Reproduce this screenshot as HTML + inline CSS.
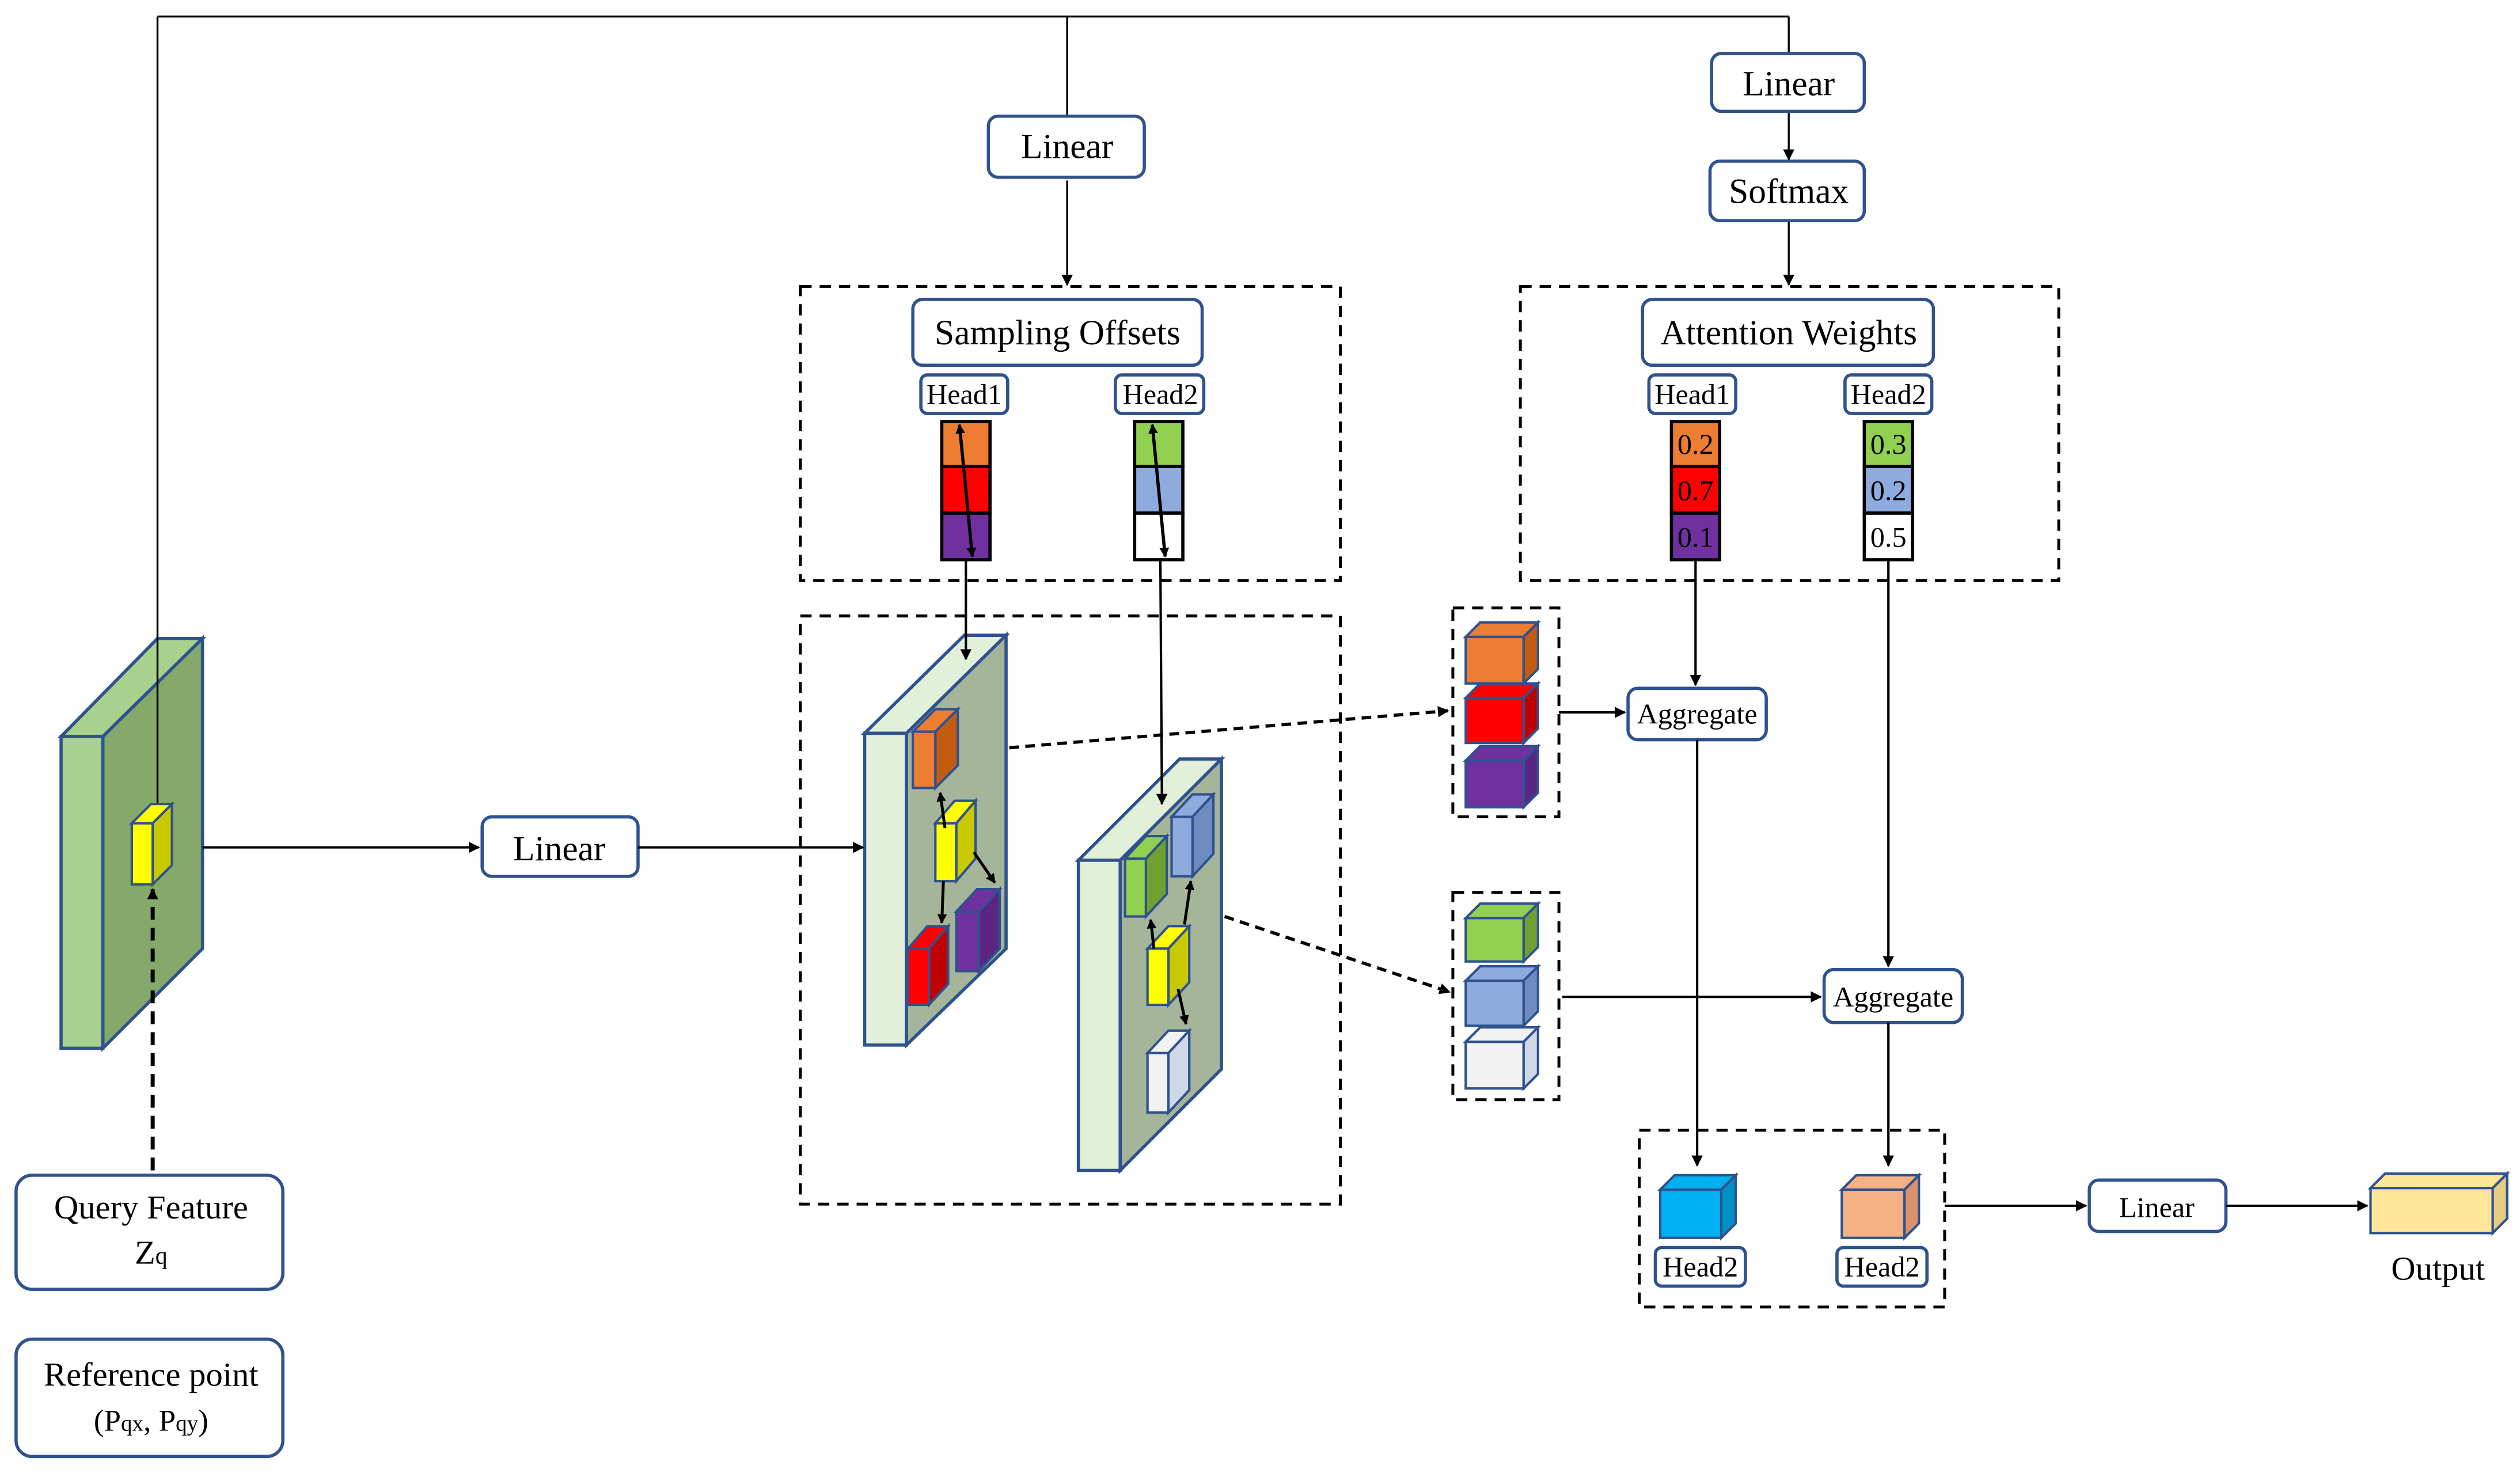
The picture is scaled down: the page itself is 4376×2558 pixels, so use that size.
<!DOCTYPE html>
<html><head><meta charset="utf-8"><style>
html,body{margin:0;padding:0;background:#fff}
svg{display:block}
text{font-family:"Liberation Serif",serif;fill:#000}
</style></head><body>
<svg width="4376" height="2558" viewBox="0 0 1568 916" xmlns="http://www.w3.org/2000/svg">
<defs>
<marker id="a" viewBox="0 0 10 10" refX="9" refY="5" markerWidth="7" markerHeight="7" orient="auto-start-reverse" markerUnits="userSpaceOnUse"><path d="M0,0 L10,5 L0,10 z" fill="#000"/></marker>
<marker id="s" viewBox="0 0 10 10" refX="9" refY="5" markerWidth="6" markerHeight="6" orient="auto-start-reverse" markerUnits="userSpaceOnUse"><path d="M0,0 L10,5 L0,10 z" fill="#000"/></marker>
</defs>
<g fill="none" stroke="#000" stroke-width="1.2">
<polyline points="98,10 1113,10"/>
<line x1="664" y1="10" x2="664" y2="72"/>
<line x1="1113" y1="10" x2="1113" y2="33"/>
<line x1="664" y1="112" x2="664" y2="177" marker-end="url(#a)"/>
<line x1="1113" y1="70" x2="1113" y2="99" marker-end="url(#a)"/>
<line x1="1113" y1="138" x2="1113" y2="177" marker-end="url(#a)"/>
</g>
<g fill="none" stroke="#000" stroke-width="1.8" stroke-dasharray="7,5">
<rect x="498" y="178" width="336" height="183"/>
<rect x="946" y="178" width="335" height="183"/>
<rect x="498" y="383" width="336" height="366"/>
<rect x="904" y="378" width="66" height="130"/>
<rect x="904" y="555" width="66" height="129"/>
<rect x="1020" y="703" width="190" height="110"/>
</g>
<g fill="#fff" stroke="#2f528f" stroke-width="2">
<rect x="615" y="72" width="97" height="38" rx="6"/>
<rect x="1065" y="33" width="95" height="36" rx="6"/>
<rect x="1064" y="100" width="96" height="37" rx="6"/>
<rect x="568" y="186" width="180" height="41" rx="6"/>
<rect x="1022" y="186" width="181" height="41" rx="6"/>
<rect x="573" y="233" width="54" height="24" rx="4"/>
<rect x="694" y="233" width="55" height="24" rx="4"/>
<rect x="1026" y="233" width="54" height="24" rx="4"/>
<rect x="1148" y="233" width="54" height="24" rx="4"/>
<rect x="10" y="731" width="166" height="71" rx="10"/>
<rect x="10" y="833" width="166" height="73" rx="10"/>
<rect x="300" y="508" width="97" height="37" rx="6"/>
<rect x="1013" y="428" width="86" height="32" rx="6"/>
<rect x="1135" y="603" width="86" height="33" rx="6"/>
<rect x="1030" y="776" width="56" height="24" rx="4"/>
<rect x="1143" y="776" width="56" height="24" rx="4"/>
<rect x="1300" y="734" width="85" height="32" rx="6"/>
</g>
<g font-size="22" text-anchor="middle">
<text x="664" y="98">Linear</text>
<text x="1113" y="59">Linear</text>
<text x="1113" y="126">Softmax</text>
<text x="658" y="214">Sampling Offsets</text>
<text x="1113" y="214">Attention Weights</text>
<text x="348" y="535">Linear</text>
<text x="94" y="758" font-size="21">Query Feature</text>
<text x="94" y="786" font-size="21">Z<tspan font-size="15">q</tspan></text>
<text x="94" y="862" font-size="21">Reference point</text>
<text x="94" y="890" font-size="19">(P<tspan font-size="14">qx</tspan>, P<tspan font-size="14">qy</tspan>)</text>
</g>
<g font-size="18" text-anchor="middle">
<text x="600" y="251">Head1</text>
<text x="722" y="251">Head2</text>
<text x="1053" y="251">Head1</text>
<text x="1175" y="251">Head2</text>
<text x="1056" y="450">Aggregate</text>
<text x="1178" y="626">Aggregate</text>
<text x="1058" y="794">Head2</text>
<text x="1171" y="794">Head2</text>
<text x="1342" y="757">Linear</text>
<text x="1517" y="796" font-size="21">Output</text>
</g>
<g stroke="#000" stroke-width="2">
<rect x="586" y="262" width="30" height="28" fill="#ed7d31"/>
<rect x="586" y="290" width="30" height="29" fill="#ff0000"/>
<rect x="586" y="319" width="30" height="29" fill="#7030a0"/>
<rect x="706" y="262" width="30" height="28" fill="#92d050"/>
<rect x="706" y="290" width="30" height="29" fill="#8faadc"/>
<rect x="706" y="319" width="30" height="29" fill="#fff"/>
<rect x="1040" y="262" width="30" height="28" fill="#ed7d31"/>
<rect x="1040" y="290" width="30" height="29" fill="#ff0000"/>
<rect x="1040" y="319" width="30" height="29" fill="#7030a0"/>
<rect x="1160" y="262" width="30" height="28" fill="#92d050"/>
<rect x="1160" y="290" width="30" height="29" fill="#8faadc"/>
<rect x="1160" y="319" width="30" height="29" fill="#fff"/>
</g>
<g font-size="18" text-anchor="middle">
<text x="1055" y="282" fill="#fff">0.2</text>
<text x="1055" y="311" fill="#fff">0.7</text>
<text x="1055" y="340" fill="#fff">0.1</text>
<text x="1175" y="282">0.3</text>
<text x="1175" y="311">0.2</text>
<text x="1175" y="340">0.5</text>
</g>
<g stroke="#000" stroke-width="2" fill="none">
<line x1="597" y1="264" x2="605" y2="346" marker-start="url(#s)" marker-end="url(#s)"/>
<line x1="717" y1="264" x2="725" y2="346" marker-start="url(#s)" marker-end="url(#s)"/>
</g>
<g stroke="#2f528f" stroke-width="2">
<polygon points="38,458 98,397 126,397 64,458" fill="#a9d18e"/>
<polygon points="64,458 126,397 126,590 64,652" fill="#84a96a"/>
<rect x="38" y="458" width="26" height="194" fill="#a9d18e"/>
<polygon points="538,456 600,395 626,395 564,456" fill="#e2efd9"/>
<polygon points="564,456 626,395 626,590 564,650" fill="#a5b59a"/>
<rect x="538" y="456" width="26" height="194" fill="#e2efd9"/>
<polygon points="671,535 734,472 760,472 697,535" fill="#e2efd9"/>
<polygon points="697,535 760,472 760,665 697,728" fill="#a5b59a"/>
<rect x="671" y="535" width="26" height="193" fill="#e2efd9"/>
</g>
<line x1="98" y1="10" x2="98" y2="505" stroke="#000" stroke-width="1.2"/>
<g stroke="#2f528f" stroke-width="1.5">
<polygon points="82,512 94,500 107,500 95,512" fill="#ffff00"/><polygon points="95,512 107,500 107,538 95,550" fill="#c9c900"/><rect x="82" y="512" width="13" height="38" fill="#ffff00"/>
<polygon points="568,455 582,441 596,441 582,455" fill="#ed7d31"/><polygon points="582,455 596,441 596,476 582,490" fill="#c55a11"/><rect x="568" y="455" width="14" height="35" fill="#ed7d31"/>
<polygon points="582,512 594,498 607,498 595,512" fill="#ffff00"/><polygon points="595,512 607,498 607,534 595,548" fill="#c9c900"/><rect x="582" y="512" width="13" height="36" fill="#ffff00"/>
<polygon points="595,567 608,553 622,553 609,567" fill="#7030a0"/><polygon points="609,567 622,553 622,590 609,604" fill="#5b2583"/><rect x="595" y="567" width="14" height="37" fill="#7030a0"/>
<polygon points="565,590 577,576 590,576 578,590" fill="#ff0000"/><polygon points="578,590 590,576 590,612 578,625" fill="#c00000"/><rect x="565" y="590" width="13" height="35" fill="#ff0000"/>
<polygon points="700,534 713,520 726,520 713,534" fill="#92d050"/><polygon points="713,534 726,520 726,556 713,570" fill="#6fa030"/><rect x="700" y="534" width="13" height="36" fill="#92d050"/>
<polygon points="729,508 742,494 755,494 742,508" fill="#8faadc"/><polygon points="742,508 755,494 755,531 742,545" fill="#6f8cc0"/><rect x="729" y="508" width="13" height="37" fill="#8faadc"/>
<polygon points="714,590 727,576 740,576 727,590" fill="#ffff00"/><polygon points="727,590 740,576 740,611 727,625" fill="#c9c900"/><rect x="714" y="590" width="13" height="35" fill="#ffff00"/>
<polygon points="714,655 727,641 740,641 727,655" fill="#f2f2f2"/><polygon points="727,655 740,641 740,678 727,692" fill="#d0d8e8"/><rect x="714" y="655" width="13" height="37" fill="#f2f2f2"/>
</g>
<g stroke="#000" stroke-width="1.8" fill="none">
<line x1="585" y1="493" x2="588" y2="515" marker-start="url(#s)"/>
<line x1="606" y1="530" x2="619" y2="549" marker-end="url(#s)"/>
<line x1="587" y1="548" x2="586" y2="574" marker-end="url(#s)"/>
<line x1="716" y1="572" x2="718" y2="590" marker-start="url(#s)"/>
<line x1="737" y1="575" x2="741" y2="548" marker-end="url(#s)"/>
<line x1="733" y1="615" x2="738" y2="637" marker-end="url(#s)"/>
</g>
<g stroke="#2f528f" stroke-width="1.5">
<polygon points="912,396 921,387 957,387 948,396" fill="#ed7d31"/><polygon points="948,396 957,387 957,416 948,425" fill="#c55a11"/><rect x="912" y="396" width="36" height="29" fill="#ed7d31"/>
<polygon points="912,434 921,425 957,425 948,434" fill="#ff0000"/><polygon points="948,434 957,425 957,453 948,462" fill="#c00000"/><rect x="912" y="434" width="36" height="28" fill="#ff0000"/>
<polygon points="912,473 921,464 957,464 948,473" fill="#7030a0"/><polygon points="948,473 957,464 957,493 948,502" fill="#5b2583"/><rect x="912" y="473" width="36" height="29" fill="#7030a0"/>
<polygon points="912,571 921,562 957,562 948,571" fill="#92d050"/><polygon points="948,571 957,562 957,589 948,598" fill="#6fa030"/><rect x="912" y="571" width="36" height="27" fill="#92d050"/>
<polygon points="912,610 921,601 957,601 948,610" fill="#8faadc"/><polygon points="948,610 957,601 957,629 948,638" fill="#6f8cc0"/><rect x="912" y="610" width="36" height="28" fill="#8faadc"/>
<polygon points="912,648 921,639 957,639 948,648" fill="#f2f2f2"/><polygon points="948,648 957,639 957,668 948,677" fill="#d0d8e8"/><rect x="912" y="648" width="36" height="29" fill="#f2f2f2"/>
<polygon points="1033,740 1042,731 1080,731 1071,740" fill="#00b0f0"/><polygon points="1071,740 1080,731 1080,761 1071,770" fill="#0090c8"/><rect x="1033" y="740" width="38" height="30" fill="#00b0f0"/>
<polygon points="1146,740 1155,731 1194,731 1185,740" fill="#f4b183"/><polygon points="1185,740 1194,731 1194,761 1185,770" fill="#d9926a"/><rect x="1146" y="740" width="39" height="30" fill="#f4b183"/>
<polygon points="1475,739 1484,730 1560,730 1551,739" fill="#ffe699"/><polygon points="1551,739 1560,730 1560,758 1551,767" fill="#e6cc80"/><rect x="1475" y="739" width="76" height="28" fill="#ffe699"/>
</g>
<g stroke="#000" stroke-width="1.5" fill="none">
<line x1="126" y1="527" x2="298" y2="527" marker-end="url(#a)"/>
<line x1="397" y1="527" x2="537" y2="527" marker-end="url(#a)"/>
<line x1="95" y1="728" x2="95" y2="553" stroke-width="2.5" stroke-dasharray="8,5" marker-end="url(#a)"/>
<line x1="601" y1="348" x2="601" y2="410" marker-end="url(#a)"/>
<line x1="722" y1="348" x2="723" y2="500" marker-end="url(#a)"/>
<line x1="628" y1="465" x2="901" y2="442" stroke-width="2" stroke-dasharray="6,4" marker-end="url(#a)"/>
<line x1="762" y1="570" x2="902" y2="617" stroke-width="2" stroke-dasharray="6,4" marker-end="url(#a)"/>
<line x1="970" y1="443" x2="1011" y2="443" marker-end="url(#a)"/>
<line x1="1055" y1="348" x2="1055" y2="426" marker-end="url(#a)"/>
<line x1="1175" y1="348" x2="1175" y2="601" marker-end="url(#a)"/>
<line x1="972" y1="620" x2="1133" y2="620" marker-end="url(#a)"/>
<line x1="1056" y1="460" x2="1056" y2="725" marker-end="url(#a)"/>
<line x1="1175" y1="636" x2="1175" y2="725" marker-end="url(#a)"/>
<line x1="1210" y1="750" x2="1298" y2="750" marker-end="url(#a)"/>
<line x1="1385" y1="750" x2="1473" y2="750" marker-end="url(#a)"/>
</g>
</svg>
</body></html>
